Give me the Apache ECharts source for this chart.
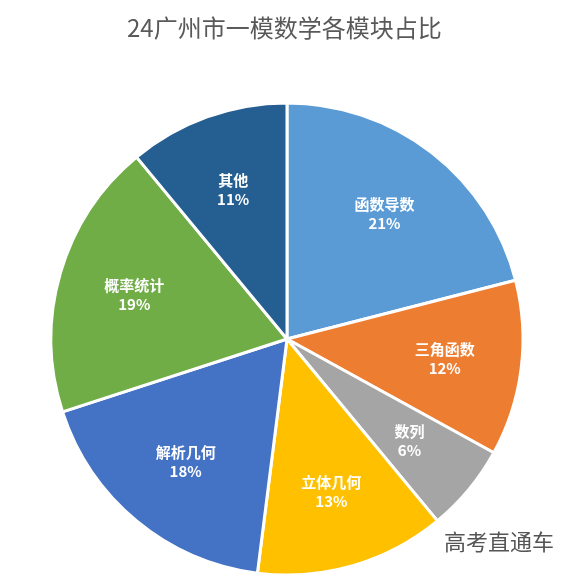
<!DOCTYPE html>
<html>
<head>
<meta charset="utf-8">
<script src="https://cdn.jsdelivr.net/npm/echarts@6/dist/echarts.min.js"></script>
<style>html,body{margin:0;padding:0;background:#fff;}#c{width:583px;height:583px;}</style>
</head>
<body>
<div id="c"></div>
<script>
const categories = ['函数导数', '三角函数', '数列', '立体几何', '解析几何', '概率统计', '其他'];
const values = [21, 12, 6, 13, 18, 19, 11];
const colors = ['#5B9BD5', '#ED7D31', '#A5A5A5', '#FFC000', '#4472C4', '#70AD47', '#255E91'];

const chart = echarts.init(document.getElementById('c'), null, {renderer: 'canvas'});
const data = categories.map((n, i) => ({name: n, value: values[i], itemStyle: {color: colors[i]}}));
const labelData = categories.map((n, i) => ({name: n, value: values[i]}));
chart.setOption({
  animation: false,
  backgroundColor: '#ffffff',
  title: {
    text: '24广州市一模数学各模块占比',
    left: 122,
    top: 11,
    textStyle: {fontFamily: 'Noto Sans CJK SC', fontWeight: 'normal', fontSize: 24, color: '#595959'}
  },
  graphic: [{
    type: 'text', left: 444, top: 531,
    style: {text: '高考直通车', fontFamily: 'Noto Sans CJK SC', fontSize: 22, fill: '#555555'}
  }],
  series: [{
    type: 'pie',
    center: [287, 339],
    radius: [0, 236],
    startAngle: 90,
    clockwise: true,
    silent: true,
    label: {show: false},
    labelLine: {show: false},
    itemStyle: {borderColor: '#ffffff', borderWidth: 3},
    data: data
  }, {
    type: 'pie',
    center: [287, 339],
    radius: [76, 236],
    startAngle: 90,
    clockwise: true,
    silent: true,
    itemStyle: {color: 'rgba(0,0,0,0)', borderWidth: 0},
    label: {
      show: true, position: 'inside',
      formatter: '{b}\n{c}%',
      color: '#ffffff', fontWeight: 'bold', fontSize: 15, lineHeight: 19,
      fontFamily: 'Noto Sans CJK SC'
    },
    labelLine: {show: false},
    data: labelData
  }]
});
</script>
</body>
</html>
